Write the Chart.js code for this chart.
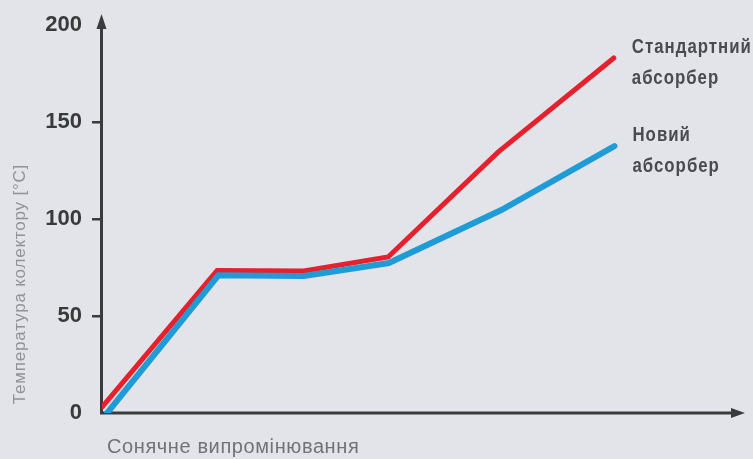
<!DOCTYPE html>
<html>
<head>
<meta charset="utf-8">
<script src="https://cdn.jsdelivr.net/npm/chart.js@4.4.1/dist/chart.umd.min.js"></script>
<style>
  html, body { margin: 0; padding: 0; background: #e2e4e9; }
  #wrap { width: 753px; height: 459px; position: relative; }
</style>
</head>
<body>
<div id="wrap"><canvas id="tempChart"></canvas></div>
<script>
const yTicks = [0, 50, 100, 150, 200];
const yTitle = 'Температура колектору [°C]';
const xTitle = 'Сонячне випромінювання';
const seriesNames = [['Новий', 'абсорбер'], ['Стандартний', 'абсорбер']];

// solar irradiance (relative units) vs collector temperature
const standardX = [0, 17.9, 31.4, 44.5, 61.6, 79.6];
const standardY = [3, 73.5, 73.2, 80.4, 134.5, 183];
const newX = [0.8, 18.1, 31.4, 44.6, 62.1, 79.7];
const newY = [0, 71, 70.6, 77.3, 104.6, 137.6];

const toPoints = (xs, ys) => xs.map((x, i) => ({ x: x, y: ys[i] }));

const AXIS = '#3b3b3b';

const decor = {
    id: 'decor',
    beforeDraw(chart) {
        const ctx = chart.ctx;
        ctx.save();
        ctx.fillStyle = '#e2e4e9';
        ctx.fillRect(0, 0, chart.width, chart.height);
        ctx.restore();
    },
    beforeDatasetsDraw(chart) {
        const ctx = chart.ctx;
        const area = chart.chartArea;
        const x0 = area.left - 0.5;
        const y0 = chart.scales.y.getPixelForValue(0);
        ctx.save();
        ctx.strokeStyle = AXIS;
        ctx.fillStyle = AXIS;
        ctx.lineWidth = 3;
        ctx.beginPath();
        ctx.moveTo(x0, area.top - 4);
        ctx.lineTo(x0, y0);
        ctx.lineTo(area.right - 10, y0);
        ctx.stroke();
        // arrow heads
        ctx.beginPath();
        ctx.moveTo(x0, area.top - 11);
        ctx.lineTo(x0 - 5, area.top + 4);
        ctx.lineTo(x0 + 5, area.top + 4);
        ctx.closePath();
        ctx.fill();
        ctx.beginPath();
        ctx.moveTo(area.right, y0);
        ctx.lineTo(area.right - 14, y0 - 5);
        ctx.lineTo(area.right - 14, y0 + 5);
        ctx.closePath();
        ctx.fill();
        ctx.restore();
    },
    afterDraw(chart) {
        const ctx = chart.ctx;
        const area = chart.chartArea;
        const y0 = chart.scales.y.getPixelForValue(0);
        ctx.save();
        // y title
        ctx.fillStyle = '#909296';
        ctx.font = '17px "Liberation Sans", Arial, sans-serif';
        ctx.letterSpacing = '0.8px';
        ctx.textAlign = 'center';
        ctx.textBaseline = 'middle';
        ctx.translate(20, (area.top + y0) / 2 + 65);
        ctx.rotate(-Math.PI / 2);
        ctx.fillText(yTitle, 0, 0);
        ctx.restore();

        // x title
        ctx.save();
        ctx.fillStyle = '#707276';
        ctx.font = '20px "Liberation Sans", Arial, sans-serif';
        ctx.letterSpacing = '0.6px';
        ctx.textAlign = 'left';
        ctx.textBaseline = 'alphabetic';
        ctx.fillText(xTitle, area.left + 5, y0 + 40);
        ctx.restore();

        // series labels next to line ends (condensed bold)
        chart.data.datasets.forEach((ds, i) => {
            const pts = chart.getDatasetMeta(i).data;
            const end = pts[pts.length - 1];
            seriesNames[i].forEach((line, j) => {
                ctx.save();
                ctx.translate(end.x + 18, end.y - 5 + j * 31);
                ctx.scale(0.84, 1);
                ctx.fillStyle = '#4a4b4f';
                ctx.font = 'bold 20px "Liberation Sans", sans-serif';
                ctx.letterSpacing = '1.2px';
                ctx.textAlign = 'left';
                ctx.textBaseline = 'alphabetic';
                ctx.fillText(line, 0, 0);
                ctx.restore();
            });
        });
    }
};

new Chart(document.getElementById('tempChart'), {
    type: 'line',
    data: {
        datasets: [{
            label: seriesNames[0].join(' '),
            data: toPoints(newX, newY),
            borderColor: '#1f9bd6',
            borderWidth: 6,
            pointRadius: 0,
            borderCapStyle: 'round',
            tension: 0
        }, {
            label: seriesNames[1].join(' '),
            data: toPoints(standardX, standardY),
            borderColor: '#e6202c',
            borderWidth: 5,
            pointRadius: 0,
            borderCapStyle: 'round',
            tension: 0
        }]
    },
    plugins: [decor],
    options: {
        responsive: true,
        maintainAspectRatio: false,
        animation: false,
        layout: { padding: { top: 25, right: 8, left: 0, bottom: 0 } },
        scales: {
            x: {
                type: 'linear',
                min: 0,
                max: 100,
                ticks: { display: false },
                grid: { display: false },
                border: { display: false },
                afterFit: (scale) => { scale.height = 46; }
            },
            y: {
                min: 0,
                max: 200,
                afterBuildTicks: (scale) => { scale.ticks = yTicks.map(v => ({ value: v })); },
                afterFit: (scale) => { scale.width = 102; },
                ticks: {
                    color: '#3a3a3a',
                    padding: 10,
                    font: { family: '"Liberation Sans", Arial, sans-serif', size: 22, weight: 'bold' }
                },
                grid: {
                    drawOnChartArea: false,
                    tickLength: 10,
                    lineWidth: 2.5,
                    color: (c) => (c.tick && (c.tick.value === 0 || c.tick.value === 200)) ? 'rgba(0,0,0,0)' : AXIS
                },
                border: { display: false }
            }
        },
        plugins: {
            legend: { display: false },
            tooltip: { enabled: false }
        }
    }
});
</script>
</body>
</html>
